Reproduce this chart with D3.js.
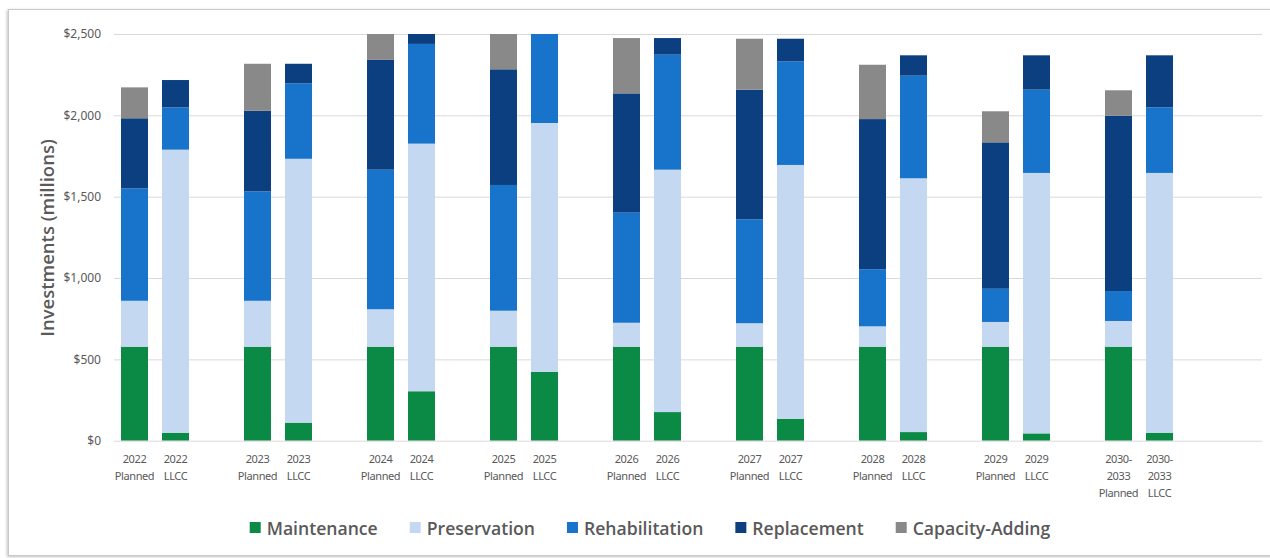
<!DOCTYPE html>
<html>
<head>
<meta charset="utf-8">
<script src="https://cdn.jsdelivr.net/npm/d3@7"></script>
<style>
  html, body { margin: 0; padding: 0; background: #ffffff; }
  svg { display: block; }
</style>
</head>
<body>
<svg id="chart" width="1270" height="558"></svg>
<script>
// ---------- data ----------
const groups = ["2022", "2023", "2024", "2025", "2026", "2027", "2028", "2029", "2030-2033"];
const scenarios = ["Planned", "LLCC"];
const seriesNames = ["Maintenance", "Preservation", "Rehabilitation", "Replacement", "Capacity-Adding"];
const seriesColors = ["#0a8a44", "#c4d9f1", "#1873cb", "#0b3f80", "#898989"];

// values per bar (order: 2022 Planned, 2022 LLCC, 2023 Planned, ...)
const maintenance    = [578, 49, 578, 111, 578, 304, 578, 424, 578, 176, 578, 135, 578, 53, 578, 45, 578, 49];
const preservation   = [282, 1740, 282, 1622, 230, 1522, 221, 1529, 147, 1490, 144, 1560, 125, 1560, 152, 1601, 158, 1597];
const rehabilitation = [691, 260, 673, 464, 858, 613, 773, 547, 677, 707, 639, 637, 351, 631, 204, 512, 184, 403];
const replacement    = [431, 168, 495, 120, 675, 61, 711, 0, 733, 102, 797, 139, 923, 125, 900, 211, 1078, 320];
const capacityAdding = [190, 0, 289, 0, 159, 0, 217, 0, 340, 0, 313, 0, 334, 0, 191, 0, 156, 0];

const yTicks = [0, 500, 1000, 1500, 2000, 2500];
const yTitle = "Investments (millions)";

// ---------- build rows ----------
const seriesArrays = [maintenance, preservation, rehabilitation, replacement, capacityAdding];
const rows = [];
groups.forEach((g, gi) => {
  scenarios.forEach((s, si) => {
    const i = gi * 2 + si;
    const r = { group: g, scenario: s };
    seriesNames.forEach((n, k) => r[n] = seriesArrays[k][i]);
    rows.push(r);
  });
});

// ---------- layout ----------
const svg = d3.select("#chart");
const plotLeft = 114, slot = 41;
const plotRight = plotLeft + 28 * slot;
const plotTop = 34, plotBottom = 440.7;

// frame with soft shadow
const defs = svg.append("defs");
const f = defs.append("filter").attr("id", "sh").attr("x", "-5%").attr("y", "-5%").attr("width", "110%").attr("height", "110%");
f.append("feDropShadow").attr("dx", -1).attr("dy", 1).attr("stdDeviation", 1.5).attr("flood-color", "#000").attr("flood-opacity", 0.25);
svg.append("rect").attr("x", 8.5).attr("y", 9.5).attr("width", 1275).attr("height", 546)
  .attr("fill", "#fff").attr("stroke", "#c9c9c9").attr("stroke-width", 1).attr("filter", "url(#sh)");

const x0 = d3.scaleBand().domain(groups).range([plotLeft, plotLeft + 27 * slot]).paddingInner(0).paddingOuter(0);
const x1 = d3.scaleBand().domain(scenarios).range([0, 2 * slot]).paddingInner(14 / 41).paddingOuter(7 / 41);
const y = d3.scaleLinear().domain([0, 2500]).range([plotBottom, plotTop]);

// gridlines + y tick labels
const yAxis = d3.axisLeft(y).tickValues(yTicks).tickSize(-(plotRight - plotLeft)).tickPadding(13)
  .tickFormat(d => "$" + d3.format(",")(d));
const gy = svg.append("g").attr("transform", `translate(${plotLeft},0)`).call(yAxis);
gy.select(".domain").remove();
gy.selectAll(".tick line").attr("stroke", "#d9d9d9").attr("stroke-width", 1);
gy.selectAll(".tick text").attr("fill", "#595959").style("font-family", "'Noto Sans', 'Open Sans', sans-serif")
  .style("font-size", "12px");

// bars
const stacked = d3.stack().keys(seriesNames)(rows);
const clip = defs.append("clipPath").attr("id", "plotclip");
clip.append("rect").attr("x", plotLeft).attr("y", plotTop).attr("width", plotRight - plotLeft).attr("height", plotBottom - plotTop);

const barsG = svg.append("g").attr("clip-path", "url(#plotclip)");
stacked.forEach((layer, k) => {
  barsG.append("g").attr("fill", seriesColors[k])
    .selectAll("rect").data(layer).join("rect")
    .attr("x", d => x0(d.data.group) + x1(d.data.scenario))
    .attr("width", x1.bandwidth())
    .attr("y", d => y(d[1]))
    .attr("height", d => Math.max(0, y(d[0]) - y(d[1])));
});

// x labels
const xl = svg.append("g").style("font-family", "'Noto Sans', 'Open Sans', sans-serif")
  .style("font-size", "11px").attr("fill", "#595959");
rows.forEach(r => {
  const cx = x0(r.group) + x1(r.scenario) + x1.bandwidth() / 2;
  let lines;
  if (r.group.includes("-")) {
    const parts = r.group.split("-");
    lines = [parts[0] + "-", parts[1], r.scenario];
  } else {
    lines = [r.group, r.scenario];
  }
  const t = xl.append("text").attr("text-anchor", "middle").attr("letter-spacing", "-0.4px");
  lines.forEach((ln, i) => {
    t.append("tspan").attr("x", cx).attr("y", 463 + i * 17).text(ln);
  });
});

// y title
svg.append("text")
  .attr("transform", `translate(54,238) rotate(-90)`)
  .attr("text-anchor", "middle")
  .attr("fill", "#595959")
  .style("font-family", "'Open Sans', 'Noto Sans', sans-serif")
  .style("font-size", "18.5px").style("font-weight", "600")
  .text(yTitle);

// legend
const lg = svg.append("g");
const legendY = 528;
const gap = 32;
const items = seriesNames.map((n, k) => {
  const g = lg.append("g");
  g.append("rect").attr("x", 0).attr("y", legendY - 6).attr("width", 11).attr("height", 11).attr("fill", seriesColors[k]);
  const t = g.append("text").attr("x", 17).attr("y", legendY + 6.5).attr("fill", "#595959")
    .style("font-family", "'Open Sans', 'Noto Sans', sans-serif")
    .style("font-size", "17.6px").style("font-weight", "600").text(n);
  return { g, w: 17 + t.node().getComputedTextLength() };
});
const total = d3.sum(items, d => d.w) + gap * (items.length - 1);
let lx = 249 + (802 - total) / 2;
items.forEach(it => { it.g.attr("transform", `translate(${lx},0)`); lx += it.w + gap; });
</script>
</body>
</html>
